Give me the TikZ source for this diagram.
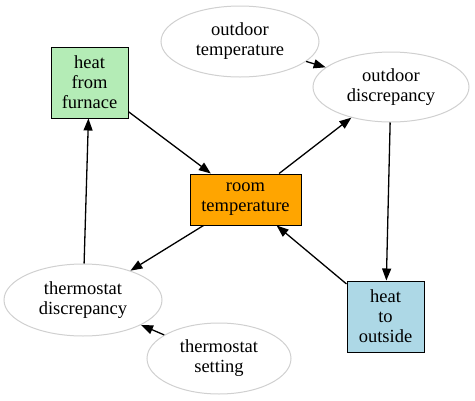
\documentclass[tikz,border=0pt]{standalone}
\usepackage{fontspec}
\setmainfont{Liberation Serif}
\usepackage{tikz}
\usetikzlibrary{arrows.meta,shapes.geometric}
\usepackage{xcolor}
\definecolor{furnacegreen}{RGB}{180,236,182}
\definecolor{roomorange}{RGB}{255,165,0}
\definecolor{outsideblue}{RGB}{173,216,230}
\definecolor{ovalgray}{RGB}{208,208,208}

\begin{document}
\begin{tikzpicture}[x=1pt,y=-1pt,
  every node/.style={align=center,inner sep=0pt,font=\fontsize{18.5}{20}\selectfont},
  box/.style={draw=black,line width=1pt,rectangle},
  oval/.style={draw=ovalgray,line width=1pt,ellipse},
  edge/.style={-{Triangle[length=12pt,width=9pt]},line width=1.3pt}]
\useasboundingbox (0,0) rectangle (475,400);

\node[box,fill=furnacegreen,minimum width=77pt,minimum height=71pt] (furnace) at (89.5,82.5) {heat\\from\\furnace};
\node[oval,minimum width=158pt,minimum height=71pt] (outtemp) at (240,41.5) {outdoor\\temperature};
\node[oval,minimum width=156pt,minimum height=70pt] (outdisc) at (391,87) {outdoor\\discrepancy};
\node[box,fill=roomorange,minimum width=111pt,minimum height=51pt] (room) at (245.5,199.5) {room\\temperature};
\node[oval,minimum width=158pt,minimum height=72pt] (thdisc) at (83,300) {thermostat\\discrepancy};
\node[oval,minimum width=144pt,minimum height=71pt] (thset) at (219,358.5) {thermostat\\setting};
\node[box,fill=outsideblue,minimum width=77pt,minimum height=71pt] (outside) at (385.5,316.5) {heat\\to\\outside};

\draw[edge] (outtemp) -- (outdisc);
\draw[edge] (outdisc) -- (outside);
\draw[edge] (outside) -- (room);
\draw[edge] (room) -- (outdisc);
\draw[edge] (furnace) -- (room);
\draw[edge] (room) -- (thdisc);
\draw[edge] (thdisc) -- (furnace);
\draw[edge] (thset) -- (thdisc);
\end{tikzpicture}
\end{document}
